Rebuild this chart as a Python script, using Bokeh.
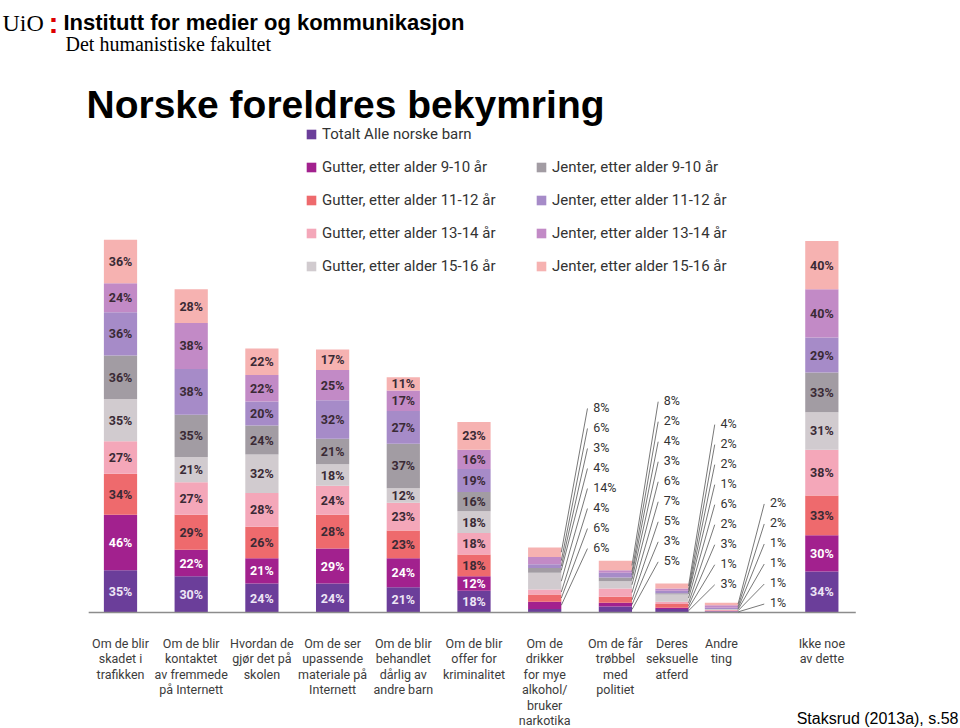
from bokeh.plotting import figure
from bokeh.models import ColumnDataSource, Range1d, Label, Legend, LegendItem
from bokeh.core.properties import value
from bokeh.embed import file_html
from bokeh.resources import INLINE

# ---------------- data ----------------
categories = [
    "Om de blir\nskadet i\ntrafikken",
    "Om de blir\nkontaktet\nav fremmede\npå Internett",
    "Hvordan de\ngjør det på\nskolen",
    "Om de ser\nupassende\nmateriale på\nInternett",
    "Om de blir\nbehandlet\ndårlig av\nandre barn",
    "Om de blir\noffer for\nkriminalitet",
    "Om de\ndrikker\nfor mye\nalkohol/\nbruker\nnarkotika",
    "Om de får\ntrøbbel\nmed\npolitiet",
    "Deres\nseksuelle\natferd",
    "Andre\nting",
    "Ikke noe\nav dette",
]

series_names = [
    "Totalt Alle norske barn",
    "Gutter, etter alder 9-10 år",
    "Gutter, etter alder 11-12 år",
    "Gutter, etter alder 13-14 år",
    "Gutter, etter alder 15-16 år",
    "Jenter, etter alder 9-10 år",
    "Jenter, etter alder 11-12 år",
    "Jenter, etter alder 13-14 år",
    "Jenter, etter alder 15-16 år",
]

totalt       = [35, 30, 24, 24, 21, 18, 3, 5, 3, 1, 34]
gutter_9_10  = [46, 22, 21, 29, 24, 12, 6, 3, 1, 0, 30]
gutter_11_12 = [34, 29, 26, 28, 23, 18, 6, 5, 3, 0, 33]
gutter_13_14 = [27, 27, 28, 24, 23, 18, 4, 7, 2, 1, 38]
gutter_15_16 = [35, 21, 32, 18, 12, 18, 14, 6, 6, 1, 31]
jenter_9_10  = [36, 35, 24, 21, 37, 16, 4, 3, 1, 0, 33]
jenter_11_12 = [36, 38, 20, 32, 27, 19, 3, 4, 2, 1, 29]
jenter_13_14 = [24, 38, 22, 25, 17, 16, 6, 2, 2, 2, 40]
jenter_15_16 = [36, 28, 22, 17, 11, 23, 8, 8, 4, 2, 40]

# value shown in the bar but without a printed label (series index, category index)
unlabelled = [(0, 6)]

series_values = [totalt, gutter_9_10, gutter_11_12, gutter_13_14, gutter_15_16,
                 jenter_9_10, jenter_11_12, jenter_13_14, jenter_15_16]

# ---------------- styling / layout ----------------
colors = ["#6B3E9A", "#A2218E", "#EE6A6D", "#F4A7B9", "#D1CBCF",
          "#A29CA3", "#A68BC8", "#C28AC6", "#F6B2B1"]
text_colors = ["#EEE6F6", "#FFFFFF"] + ["#3A2A35"] * 7

W, H = 960, 728
slots = [0, 1, 2, 3, 4, 5, 6, 7, 7.8, 8.5, 9.92]
bar_w = 0.47
px_per_slot = 70.7
px_per_pct = 1.206
x0_px, base_px = 120, 612

p = figure(width=W, height=H, title=None,
           x_range=Range1d(-x0_px / px_per_slot, (W - x0_px) / px_per_slot),
           y_range=Range1d(-(H - base_px) / px_per_pct, base_px / px_per_pct),
           x_axis_location=None, y_axis_location=None,
           output_backend="svg", toolbar_location=None, min_border=0)
p.grid.visible = False
p.outline_line_color = None
p.background_fill_color = "white"

keys = [f"s{j}" for j in range(len(series_values))]
src = ColumnDataSource(dict(x=slots, **{k: v for k, v in zip(keys, series_values)}))
rends = p.vbar_stack(keys, x="x", width=bar_w, color=colors, line_color=None, source=src)

# baseline
p.segment(x0=[-0.45], x1=[10.4], y0=[0], y1=[0], line_color="#8C8C8C", line_width=1.5)

# ---------------- value labels ----------------
in_x, in_y, in_t, in_c = [], [], [], []
sd_x, sd_y, sd_t = [], [], []
ln_x0, ln_y0, ln_x1, ln_y1 = [], [], [], []
side_step = 16.6
for i, xs in enumerate(slots):
    total = sum(sv[i] for sv in series_values)
    bottom = 0
    k = 0
    for j, sv in enumerate(series_values):
        v = sv[i]
        if v <= 0:
            continue
        mid = bottom + v / 2
        bottom += v
        if (j, i) in unlabelled:
            continue
        if total > 100:
            in_x.append(xs); in_y.append(mid); in_t.append(f"{v}%"); in_c.append(text_colors[j])
        else:
            ly = total + k * side_step
            sd_x.append(xs + bar_w / 2 + 0.45); sd_y.append(ly); sd_t.append(f"{v}%")
            ln_x0.append(xs + bar_w / 2); ln_y0.append(mid)
            ln_x1.append(xs + bar_w / 2 + 0.37); ln_y1.append(ly - 1)
            k += 1

p.text(x=in_x, y=in_y, text=in_t, text_color=in_c, text_align="center",
       text_baseline="middle", text_font=value("Roboto"), text_font_style="bold",
       text_font_size="12.5px")
p.segment(x0=ln_x0, y0=ln_y0, x1=ln_x1, y1=ln_y1, line_color="#555555", line_width=0.8)
p.text(x=sd_x, y=sd_y, text=sd_t, text_color="#333333", text_align="left",
       text_baseline="middle", text_font=value("Roboto"), text_font_size="12.5px")

# category labels
p.text(x=slots, y=[-19.5] * len(slots), text=categories, text_color="#3C3C3C",
       text_align="center", text_baseline="top", text_line_height=1.03,
       text_font=value("Roboto"), text_font_size="12.5px")

# ---------------- legend ----------------
common = dict(orientation="vertical", glyph_width=12, glyph_height=12, label_height=20,
              spacing=13, padding=0, margin=0, label_standoff=5,
              border_line_color=None, background_fill_alpha=0,
              label_text_font="Roboto", label_text_font_size="15px",
              label_text_color="#333333")
leg1 = Legend(items=[LegendItem(label=series_names[j], renderers=[rends[j]]) for j in range(0, 5)],
              location=(305, 452), **common)
leg2 = Legend(items=[LegendItem(label=series_names[j], renderers=[rends[j]]) for j in range(5, 9)],
              location=(535, 452), **common)
p.add_layout(leg1)
p.add_layout(leg2)

# ---------------- header texts ----------------
def lab(text, x, y, font, size, style="normal", color="black", align="left"):
    p.add_layout(Label(x=x, y=H - y, x_units="screen", y_units="screen", text=text,
                       text_font=font, text_font_size=size, text_font_style=style,
                       text_color=color, text_align=align, text_baseline="alphabetic"))

lab("UiO", 2, 22, "Liberation Serif", "24px")
lab(":", 48, 22, "Liberation Sans", "30px", style="bold", color="#DD0000")
lab("Institutt for medier og kommunikasjon", 63, 22, "Liberation Sans", "22px", style="bold")
lab("Det humanistiske fakultet", 65, 43, "Liberation Serif", "20px")
lab("Norske foreldres bekymring", 86, 104, "Liberation Sans", "39px", style="bold")
lab("Staksrud (2013a), s.58", 958, 718, "Liberation Sans", "16px", align="right")

open("out.html", "w").write(file_html(p, INLINE))
